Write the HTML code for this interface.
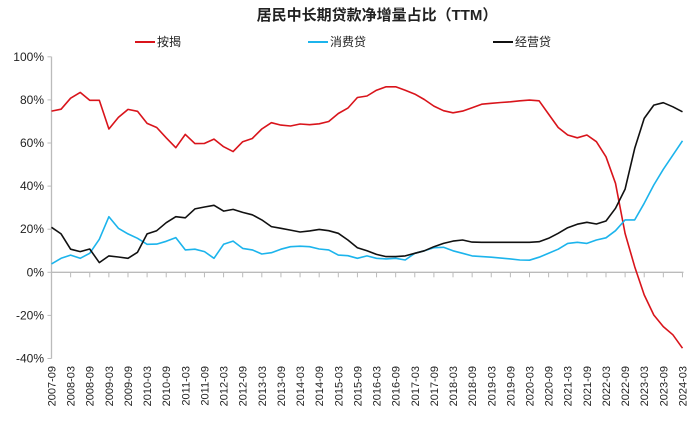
<!DOCTYPE html>
<html><head><meta charset="utf-8"><style>
body{margin:0;background:#fff;}
svg text{font-family:"Liberation Sans","Noto Sans CJK SC",sans-serif;}
</style></head><body>
<svg id="chart" width="700" height="421" viewBox="0 0 700 421" xmlns="http://www.w3.org/2000/svg">
<rect width="700" height="421" fill="#fff"/>
<text x="377" y="20" text-anchor="middle" font-size="15" font-weight="bold" fill="#222">居民中长期贷款净增量占比（TTM）</text>
<g font-size="12" fill="#222">
<g><line x1="135" y1="42" x2="155" y2="42" stroke="#d9141b" stroke-width="2"/><text x="157" y="46">按揭</text></g>
<g><line x1="308" y1="42" x2="328" y2="42" stroke="#1cb4ec" stroke-width="2"/><text x="330" y="46">消费贷</text></g>
<g><line x1="493" y1="42" x2="513" y2="42" stroke="#111" stroke-width="2"/><text x="515" y="46">经营贷</text></g>
</g>
<g id="axes"></g>
<g id="series"></g>
</svg>
<script>
const yTicks=[100,80,60,40,20,0,-20,-40];
const yTickLabels=["100%","80%","60%","40%","20%","0%","-20%","-40%"];
const xLabels=["2007-09","2008-03","2008-09","2009-03","2009-09","2010-03","2010-09","2011-03","2011-09","2012-03","2012-09","2013-03","2013-09","2014-03","2014-09","2015-03","2015-09","2016-03","2016-09","2017-03","2017-09","2018-03","2018-09","2019-03","2019-09","2020-03","2020-09","2021-03","2021-09","2022-03","2022-09","2023-03","2023-09","2024-03"];
const mortgage=[74.8,75.7,80.8,83.5,79.8,79.8,66.5,71.9,75.6,74.7,69.1,67.2,62.4,57.8,64,59.7,59.8,61.8,58.3,56,60.6,62.1,66.5,69.4,68.3,67.9,68.8,68.5,68.9,70,73.7,76.2,81.1,81.8,84.5,86.1,86.1,84.5,82.7,80.2,77.1,75,74,74.8,76.4,78,78.4,78.8,79.1,79.6,79.9,79.6,73.4,67.2,63.7,62.4,63.7,60.6,53.6,41.3,18,2.6,-10.5,-19.8,-25.2,-29,-35.2];
const consumer=[3.9,6.5,8,6.5,8.8,15.3,25.8,20.4,17.8,15.8,13,13.1,14.4,16.1,10.4,10.7,9.6,6.5,13,14.5,11.1,10.4,8.5,9.1,10.7,11.9,12.1,11.9,10.8,10.4,8,7.7,6.5,7.6,6.5,6.2,6.5,5.7,8.8,10,11.4,11.6,10,8.8,7.6,7.3,7,6.6,6.2,5.7,5.6,7,8.8,10.7,13.4,13.9,13.4,15,16,19.3,24.3,24.3,32,40.5,47.8,54.4,61];
const business=[20.9,17.8,10.7,9.6,10.8,4.5,7.6,7.1,6.5,9.3,17.8,19.3,23,25.8,25.3,29.4,30.3,31.1,28.4,29.2,27.8,26.7,24.3,21.2,20.4,19.6,18.7,19.2,19.9,19.3,18.1,15,11.4,10,8.3,7.3,7.3,7.6,8.8,10,11.9,13.4,14.5,15,14,13.9,13.9,13.9,13.9,13.9,13.9,14.2,15.8,18.1,20.7,22.3,23.2,22.4,23.8,29.7,38.6,57.5,71.4,77.6,78.7,76.8,74.5];
const X0=51.5,DX=9.56,Y0=272.3,PY=2.155;
const xs=i=>X0+i*DX, ys=v=>Y0-v*PY;
const NS="http://www.w3.org/2000/svg";
const axes=document.getElementById('axes'), series=document.getElementById('series');
function mk(tag,attrs,parent){const e=document.createElementNS(NS,tag);for(const k in attrs)e.setAttribute(k,attrs[k]);parent.appendChild(e);return e;}
let yl=mk('line',{x1:X0,y1:ys(100),x2:X0,y2:ys(-40),stroke:'#bbb','stroke-width':1.3},axes);


yTicks.forEach((v,i)=>{
 mk('line',{x1:X0-4,y1:ys(v),x2:X0,y2:ys(v),stroke:'#bbb'},axes);
 const t=mk('text',{x:44,y:ys(v)+4,'text-anchor':'end','font-size':12,fill:'#222'},axes);
 t.textContent=yTickLabels[i];
 
 
});
let xl=mk('line',{x1:X0,y1:Y0,x2:xs(66)+1,y2:Y0,stroke:'#bbb','stroke-width':1.3},axes);


xLabels.forEach((lab,i)=>{
 const x=xs(i*2);
 mk('line',{x1:x,y1:Y0,x2:x,y2:Y0+5,stroke:'#bbb'},axes);
 const t=mk('text',{x:0,y:0,'text-anchor':'end','font-size':11,fill:'#222',transform:`translate(${x+4},366) rotate(-90)`},axes);
 t.textContent=lab;
 
 
});
function line(arr,color,name){
 const p=mk('polyline',{points:arr.map((v,i)=>xs(i).toFixed(1)+','+ys(v).toFixed(1)).join(' '),fill:'none',stroke:color,'stroke-width':1.6,'stroke-linejoin':'round'},series);
 
 
}
line(mortgage,'#d9141b','mortgage-line');
line(consumer,'#1cb4ec','consumer-loan-line');
line(business,'#111','business-loan-line');
</script>
</body></html>
